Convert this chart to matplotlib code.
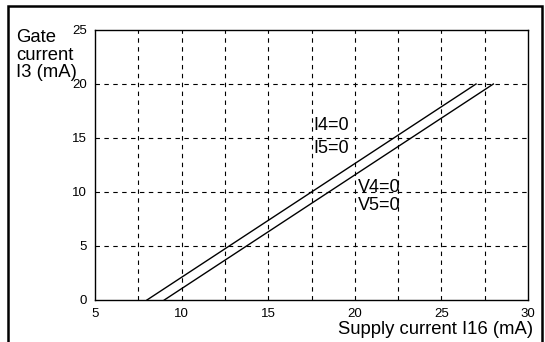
import numpy as np
import matplotlib
matplotlib.use('Agg')
import matplotlib.pyplot as plt
from matplotlib.patches import Rectangle

plt.rcParams['font.family'] = ['Liberation Sans', 'DejaVu Sans']

# Lines: supply current I16 (mA) vs gate current I3 (mA)
line_a_x = [8, 27]
line_a_y = [0, 20]
line_b_x = [9, 28]
line_b_y = [0, 20]

x_ticks = [5, 10, 15, 20, 25, 30]
y_ticks = [0, 5, 10, 15, 20, 25]
x_grid = [7.5, 10, 12.5, 15, 17.5, 20, 22.5, 25, 27.5]
y_grid = [5, 10, 15, 20]

notes = [(17.6, 15.7, 'I4=0'), (17.6, 13.6, 'I5=0'),
         (20.2, 10.0, 'V4=0'), (20.2, 8.3, 'V5=0')]

W, H = 545, 342
fig = plt.figure(figsize=(W / 100, H / 100), dpi=100)
ax = fig.add_axes([95 / W, 1 - 300 / H, (528 - 95) / W, (300 - 30) / H])

# dashed grid
for gx in x_grid:
    ax.axvline(gx, color='black', lw=0.8, ls=(0, (4, 4)), zorder=1)
for gy in y_grid:
    ax.axhline(gy, color='black', lw=0.8, ls=(0, (4, 4)), zorder=1)

ax.plot(line_a_x, line_a_y, color='black', lw=1.0, zorder=2)
ax.plot(line_b_x, line_b_y, color='black', lw=1.0, zorder=2)

for nx, ny, txt in notes:
    ax.text(nx, ny, txt, fontsize=13, ha='left', va='baseline')

ax.set_xlim(5, 30)
ax.set_ylim(0, 25)
ax.set_xticks(x_ticks)
ax.set_yticks(y_ticks)
ax.tick_params(length=0, labelsize=9.5, pad=6)
for s in ax.spines.values():
    s.set_linewidth(1.0)

fig.text(16 / W, 1 - 41.7 / H, 'Gate', fontsize=13.3, ha='left', va='baseline')
fig.text(16 / W, 1 - 59.5 / H, 'current', fontsize=13.3, ha='left', va='baseline')
fig.text(16 / W, 1 - 77.3 / H, 'I3 (mA)', fontsize=13.3, ha='left', va='baseline')
fig.text(533 / W, 1 - 334 / H, 'Supply current I16 (mA)', fontsize=13.3,
         ha='right', va='baseline')

# outer frame
fig.patches.append(Rectangle((8 / W, -0.1), (542 - 8) / W, 1.1 - 6 / H,
                             transform=fig.transFigure, fill=False,
                             lw=1.8, color='black'))

fig.savefig('out.png', dpi=100)
